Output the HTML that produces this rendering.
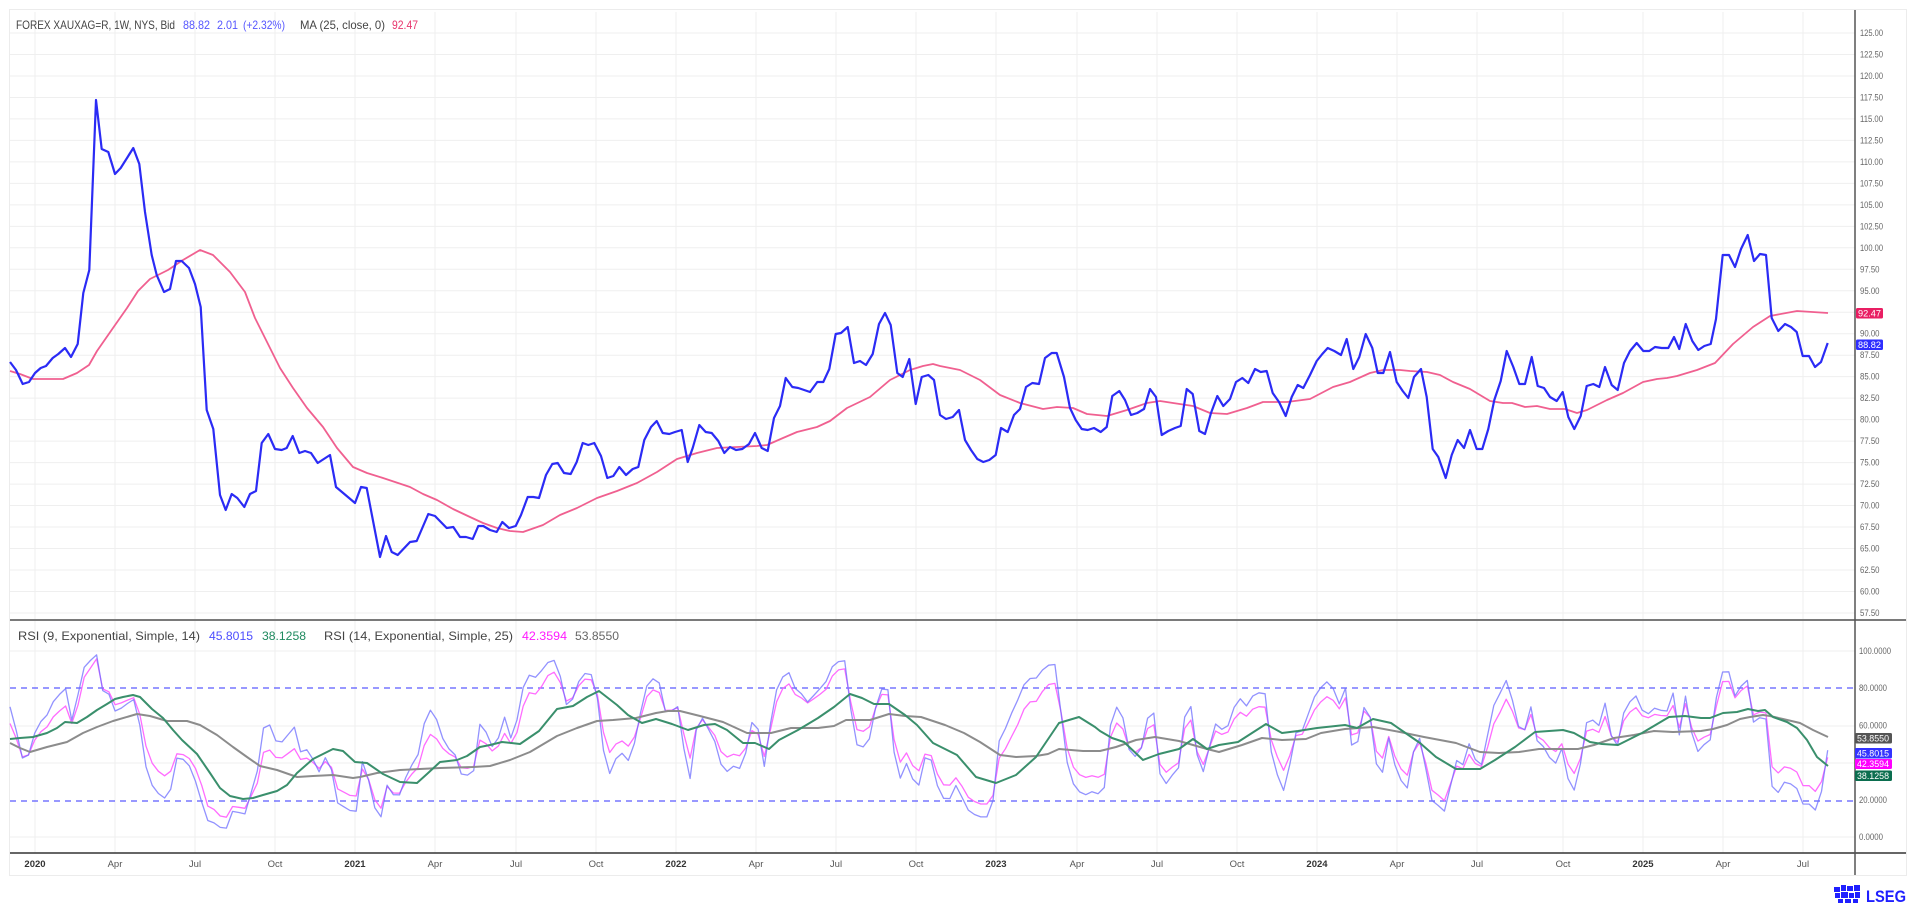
<!DOCTYPE html>
<html><head><meta charset="utf-8">
<style>
html,body{margin:0;padding:0;background:#fff;}
svg{display:block;font-family:"Liberation Sans",sans-serif;}
</style></head>
<body>
<svg id="c" width="1916" height="905" viewBox="0 0 1916 905" xmlns="http://www.w3.org/2000/svg">
<rect x="0" y="0" width="1916" height="905" fill="#fff"/>
<rect x="9.5" y="9.5" width="1897" height="866" fill="#fff" stroke="#ececec" stroke-width="1"/>
<g id="grid" stroke="#efefef" stroke-width="1"></g>
<!-- dashed RSI levels -->
<line x1="10" y1="688" x2="1855" y2="688" stroke="#5a5aff" stroke-width="1.3" stroke-dasharray="6,5"/>
<line x1="10" y1="801" x2="1855" y2="801" stroke="#5a5aff" stroke-width="1.3" stroke-dasharray="6,5"/>

<!-- MA -->
<polyline fill="none" stroke="#f06090" stroke-width="1.8" stroke-linejoin="round" points="10,371 20,374 33,379 63,379 77,373 89,365 97,351 113,328 127,308 138,291 150,279 168,270 183,260 200,250 213,255 230,272 245,292 255,318 267,342 280,368 293,388 307,408 323,427 337,448 353,467 367,473 383,478 410,487 423,494 437,500 453,509 470,517 483,523 497,528 510,531 523,532 543,525 560,515 577,508 597,498 617,491 637,483 657,472 677,459 697,453 717,448 737,447 757,446 767,445 783,438 797,432 817,427 830,421 847,408 870,397 890,380 910,370 923,366 933,364 940,366 960,370 980,380 1000,395 1020,403 1043,409 1057,407 1073,408 1087,414 1107,416 1127,410 1147,403 1160,401 1173,403 1193,406 1210,413 1227,414 1247,408 1263,402 1287,402 1310,399 1333,387 1350,382 1370,373 1383,370 1400,370 1410,371 1427,372 1440,375 1453,382 1470,389 1490,401 1503,403 1512,403 1525,407 1537,406 1550,409 1565,409 1577,413 1587,410 1607,400 1623,393 1643,382 1657,379 1667,378 1677,376 1697,370 1715,363 1733,344 1753,327 1770,316 1797,311 1828,313"/>

<!-- Price -->
<polyline id="price" fill="none" stroke="#2b2bf5" stroke-width="2.2" stroke-linejoin="round" points="10,362 16,370 22.7,384 29,382 35,373 40.7,368 46,366 52.7,358 58.3,354 65,348 71,357 77.7,344 83.3,293 89.3,270 96,100 101.7,149 108.3,152 115,174 120.7,168 133.3,148 139.3,164 145,212 151.7,255 156.7,275 164,292 170,289 176,261 181.7,261 189,268 195,284 200.7,307 206.7,410 213.3,429 220,495 225.7,510 231.7,494 237.3,498 244.3,507 250,494 256,491 261.7,443 268.3,434 275,449 281.7,450 286.7,448 292.7,436 299.3,453 305,451 311,453 317.7,463 330,455 336,487 355,503 361,487 366.7,488 380,557 386,536 391.7,552 397.7,555 410,542 416.7,541 428.3,514 435,516 446.7,528 453.3,527 460,537 466,537 472.7,539 478.3,526 483.3,526 490,530 496.7,532 502.3,522 509,528 515.7,526 521,515 527.7,497 533.3,497 539,498 546,475 552.3,464 557.7,463 564,473 570.7,474 576.7,462 582.7,443 588.3,445 594.3,443 601,456 607.3,478 613.3,476 619.3,467 626,475 632.7,469 638.3,467 644.3,440 651,427 656.7,421 662.7,433 669.3,434 675,432 681.7,430 687.7,462 692.7,448 699.3,425 705.7,432 711.7,433 718.3,441 724.3,453 730,447 736,450 742.3,449 749,444 755,433 761.7,448 767.7,451 774,418 780,406 785.7,378 792.3,387 798.3,388 810,392 817.3,382 823.3,382 829.3,369 835.7,334 841,333 847.7,327 854,363 860,361 866,365 872.7,354 879,324 885,313 890.7,325 897.3,373 902.7,377 909.3,359 915.7,404 921.7,377 928.3,375 934,380 940,415 946,419 952.7,417 959,410 965,440 971,450 977.3,459 983.3,462 989.3,460 995.7,455 1001,428 1007.7,432 1014,415 1020,409 1026,387 1032.3,383 1039,384 1045,358 1051.7,353 1056.7,353 1064,377 1070,408 1075.7,420 1081.7,429 1087.7,430 1094,428 1100.7,432 1106.7,427 1112.3,396 1119.3,391 1125,400 1131,415 1137.3,413 1144,409 1150,389 1156,397 1161.7,435 1168.3,431 1175,428 1180.7,426 1186.7,389 1192.7,394 1199.3,431 1205,434 1211,413 1217.3,396 1223.3,406 1230,399 1236,382 1242.3,378 1248.3,383 1255,369 1260.7,372 1266.7,371 1272.7,393 1279,402 1285.7,416 1291.7,397 1297.7,385 1303.3,388 1310,375 1316.7,361 1322.3,354 1327.7,348 1334.3,351 1341,355 1346.7,339 1353.3,369 1359.3,357 1365.7,334 1372.3,348 1377.7,373 1383.3,373 1390,352 1396.7,382 1402.7,391 1408.3,398 1414,377 1421,369 1426.7,397 1432.7,449 1438.3,457 1445.7,478 1451.7,455 1457.7,440 1464,448 1470,430 1476.7,449 1482.3,449 1488.3,429 1494.3,400 1500.7,381 1506.7,351 1513.3,367 1519.3,384 1525,384 1531.7,357 1537.7,386 1544,388 1550,397 1556.7,401 1562.7,392 1568.3,417 1574.3,429 1580.7,416 1586.7,386 1593.3,384 1599.3,387 1605,367 1611.7,385 1617.7,390 1624,363 1630,351 1636.7,343 1643.3,351 1649.3,351 1655,347 1661.7,348 1668.3,348 1674,337 1679.3,349 1685.7,324 1692.3,341 1698.3,350 1704.3,346 1710.7,344 1716,319 1722.7,255 1729,255 1735,267 1741,249 1747.7,235 1754,261 1760,254 1766,255 1771.7,318 1778.3,331 1785,324 1791,327 1796.7,332 1802.7,356 1809,356 1815,367 1821,362 1827.7,343"/>

<!-- RSI computed lines go here -->
<g id="rsi"></g>

<!-- gray SMA25 of RSI14 -->
<polyline fill="none" stroke="#8c8c8c" stroke-width="2" stroke-linejoin="round" points="10,743 20,748 30,752 47,747 67,742 83,733 97,727 113,721 137,714 150,716 167,721 187,721 200,725 217,735 233,747 247,757 260,766 277,770 297,777 313,776 333,775 353,778 360,777 377,773 400,770 420,769 440,768 473,767 490,766 510,760 530,752 557,736 577,728 597,721 613,720 636,718 656,713 668,711 680,711 700,716 723,722 747,733 771,733 791,728 818,728 834,726 846,720 870,720 889,714 905,716 921,717 945,725 964,733 980,742 1000,755 1016,757 1036,756 1048,754 1059,749 1083,751 1100,751 1116,747 1136,740 1155,737 1179,741 1207,749 1219,752 1242,745 1262,738 1282,740 1306,739 1321,733 1345,729 1373,727 1400,732 1424,737 1456,743 1480,752 1499,753 1519,752 1539,749 1559,749 1578,749 1594,745 1614,738 1634,735 1654,731 1673,732 1701,731 1713,729 1727,725 1740,719 1750,717 1763,715 1770,716 1783,719 1800,723 1813,730 1828,737"/>
<!-- green SMA14 of RSI9 -->
<polyline fill="none" stroke="#3a8f6c" stroke-width="2" stroke-linejoin="round" points="10,739 20,738 33,737 47,733 57,728 65,722 77,723 87,717 97,710 107,704 115,699 123,697 133,695 140,697 152,709 163,718 173,730 182,740 197,754 210,773 220,788 230,796 243,799 253,798 263,795 277,791 287,785 297,773 313,759 327,752 333,749 343,751 355,762 367,763 383,774 400,782 417,783 427,774 440,762 457,760 467,756 480,747 490,745 502,742 520,744 539,731 557,709 573,706 587,697 599,691 617,705 628,715 642,723 656,719 672,724 688,730 704,725 715,724 727,730 743,743 755,743 769,749 779,740 798,730 818,718 834,707 850,694 862,698 874,704 889,704 905,715 917,725 933,743 957,755 976,777 996,783 1016,775 1036,757 1059,723 1079,717 1095,727 1100,731 1112,738 1124,742 1143,760 1159,754 1179,749 1193,739 1207,749 1219,745 1238,742 1266,724 1282,733 1298,731 1317,728 1345,725 1357,728 1373,719 1391,723 1404,732 1420,743 1436,757 1456,769 1480,769 1495,760 1515,747 1535,732 1563,730 1574,733 1590,742 1602,744 1618,745 1642,733 1669,717 1685,716 1701,718 1710,718 1723,713 1737,712 1748,709 1758,711 1765,710 1773,717 1787,722 1797,728 1807,740 1817,757 1828,766"/>

<!-- axes -->
<line x1="10" y1="620" x2="1906" y2="620" stroke="#7a7a7a" stroke-width="2"/>
<line x1="10" y1="853" x2="1906" y2="853" stroke="#333" stroke-width="1.5"/>
<line x1="1855" y1="10" x2="1855" y2="875" stroke="#555" stroke-width="1.5"/>
<rect x="1856" y="10" width="50" height="865" fill="none"/>

<g id="ylabels" font-size="9" fill="#666"></g>
<g id="xlabels" font-size="9.5" text-anchor="middle"></g>

<!-- legends -->
<g font-size="12">
<text x="16" y="29" fill="#444" textLength="159" lengthAdjust="spacingAndGlyphs">FOREX XAUXAG=R, 1W, NYS, Bid</text>
<text x="183" y="29" fill="#5656ff" textLength="27" lengthAdjust="spacingAndGlyphs">88.82</text>
<text x="217" y="29" fill="#5656ff" textLength="21" lengthAdjust="spacingAndGlyphs">2.01</text>
<text x="243" y="29" fill="#5656ff" textLength="42" lengthAdjust="spacingAndGlyphs">(+2.32%)</text>
<text x="300" y="29" fill="#444" textLength="85" lengthAdjust="spacingAndGlyphs">MA (25, close, 0)</text>
<text x="392" y="29" fill="#e8356d" textLength="26" lengthAdjust="spacingAndGlyphs">92.47</text>

<text x="18" y="640" fill="#444" textLength="182" lengthAdjust="spacingAndGlyphs">RSI (9, Exponential, Simple, 14)</text>
<text x="209" y="640" fill="#4c4cff" textLength="44" lengthAdjust="spacingAndGlyphs">45.8015</text>
<text x="262" y="640" fill="#1f8a5f" textLength="44" lengthAdjust="spacingAndGlyphs">38.1258</text>
<text x="324" y="640" fill="#444" textLength="189" lengthAdjust="spacingAndGlyphs">RSI (14, Exponential, Simple, 25)</text>
<text x="522" y="640" fill="#ff1aff" textLength="45" lengthAdjust="spacingAndGlyphs">42.3594</text>
<text x="575" y="640" fill="#666" textLength="44" lengthAdjust="spacingAndGlyphs">53.8550</text>
</g>

<!-- badges -->
<g font-size="9" fill="#fff">
<rect x="1856" y="308" width="27" height="10.5" rx="1.5" fill="#e91e63"/>
<text x="1858" y="316.5" textLength="23" lengthAdjust="spacingAndGlyphs">92.47</text>
<rect x="1856" y="339.5" width="27" height="10.5" rx="1.5" fill="#2e2eff"/>
<text x="1858" y="348" textLength="23" lengthAdjust="spacingAndGlyphs">88.82</text>

<rect x="1855" y="733" width="37" height="10.5" rx="1.5" fill="#555"/>
<text x="1857" y="741.5" textLength="32" lengthAdjust="spacingAndGlyphs">53.8550</text>
<rect x="1855" y="748" width="37" height="10.5" rx="1.5" fill="#3333ff"/>
<text x="1857" y="756.5" textLength="32" lengthAdjust="spacingAndGlyphs">45.8015</text>
<rect x="1855" y="759" width="37" height="10" rx="1.5" fill="#ff00ff"/>
<text x="1857" y="767" textLength="32" lengthAdjust="spacingAndGlyphs">42.3594</text>
<rect x="1855" y="770.5" width="37" height="10.5" rx="1.5" fill="#0b6e4f"/>
<text x="1857" y="779" textLength="32" lengthAdjust="spacingAndGlyphs">38.1258</text>
</g>

<!-- LSEG logo -->
<g fill="#1f1fff">
<rect x="1834" y="887" width="6" height="5"/><rect x="1841" y="885" width="5" height="6"/>
<rect x="1847" y="886" width="6" height="5"/><rect x="1854" y="885" width="6" height="6"/>
<rect x="1835" y="893" width="5" height="5"/><rect x="1841" y="892" width="7" height="6"/>
<rect x="1849" y="893" width="5" height="5"/><rect x="1855" y="892" width="5" height="6"/>
<rect x="1838" y="899" width="5" height="4"/><rect x="1845" y="899" width="6" height="4"/>
<rect x="1853" y="899" width="5" height="4"/>
<text x="1866" y="902" font-size="17" font-weight="bold" textLength="40" lengthAdjust="spacingAndGlyphs">LSEG</text>
</g>
</svg>
<script>
(function(){
var NS="http://www.w3.org/2000/svg";
function el(tag,attrs,parent,txt){var e=document.createElementNS(NS,tag);for(var k in attrs)e.setAttribute(k,attrs[k]);if(txt!==undefined)e.textContent=txt;parent.appendChild(e);return e;}
var grid=document.getElementById('grid');
// horizontal main grid
for(var i=0;i<=27;i++){var y=33+i*21.48;el('line',{x1:10,y1:y,x2:1855,y2:y},grid);}
// rsi grid
[651,726,763,837].forEach(function(y){el('line',{x1:10,y1:y,x2:1855,y2:y},grid);});
var xt=[[35,'2020',1],[115,'Apr'],[195,'Jul'],[275,'Oct'],[355,'2021',1],[435,'Apr'],[516,'Jul'],[596,'Oct'],[676,'2022',1],[756,'Apr'],[836,'Jul'],[916,'Oct'],[996,'2023',1],[1077,'Apr'],[1157,'Jul'],[1237,'Oct'],[1317,'2024',1],[1397,'Apr'],[1477,'Jul'],[1563,'Oct'],[1643,'2025',1],[1723,'Apr'],[1803,'Jul']];
var xl=document.getElementById('xlabels');
xt.forEach(function(t){el('line',{x1:t[0],y1:12,x2:t[0],y2:853},grid);
 var a={x:t[0],y:867,fill:t[2]?'#333':'#555'};if(t[2])a['font-weight']='bold';el('text',a,xl,t[1]);});
// y labels
var yl=document.getElementById('ylabels');
for(var i=0;i<=27;i++){var v=125-i*2.5;var y=33+i*21.48;if(Math.abs(v-92.5)<0.01)continue;
 var s=v.toFixed(2);el('text',{x:1860,y:y+3,textLength:s.length==6?23:19.5,lengthAdjust:'spacingAndGlyphs'},yl,s);}
[[100,'100.0000'],[80,'80.0000'],[60,'60.0000'],[20,'20.0000'],[0,'0.0000']].forEach(function(r){
 var y=837-r[0]*1.86;el('text',{x:1859,y:y+3,textLength:r[1].length*4.0,lengthAdjust:'spacingAndGlyphs'},yl,r[1]);});
// RSI computation from price trace
var pts=document.getElementById('price').getAttribute('points').trim().split(/\s+/).map(function(p){var q=p.split(',');return [+q[0],+q[1]];});
function interp(x){for(var i=1;i<pts.length;i++){if(pts[i][0]>=x){var a=pts[i-1],b=pts[i];var t=(x-a[0])/(b[0]-a[0]);return a[1]+t*(b[1]-a[1]);}}return pts[pts.length-1][1];}
var N=295,x0=10,x1=1827.7,dx=(x1-x0)/(N-1);var c=[];
for(var i=0;i<N;i++){var y=interp(x0+i*dx);c.push(125-(y-33)/8.593);}
function rsi(n,g0,l0){var a=2/(n+1),ag=g0,al=l0,out=[];for(var i=0;i<N;i++){if(i>0){var ch=c[i]-c[i-1];var g=ch>0?ch:0,l=ch<0?-ch:0;ag+=a*(g-ag);al+=a*(l-al);}out.push(100*ag/(ag+al+1e-9));}return out;}
var r9=rsi(9,0.77,0.33),r14=rsi(14,0.61,0.39);
var g=document.getElementById('rsi');
function line(r,col,w,op){var s=r.map(function(v,i){return (x0+i*dx).toFixed(1)+','+(837-v*1.86).toFixed(1);}).join(' ');
 el('polyline',{points:s,fill:'none',stroke:col,'stroke-width':w,'stroke-opacity':op,'stroke-linejoin':'round'},g);}
line(r14,'#ff5cff',1.3,0.9);
line(r9,'#6d6dff',1.3,0.75);
})();
</script>
</body></html>
